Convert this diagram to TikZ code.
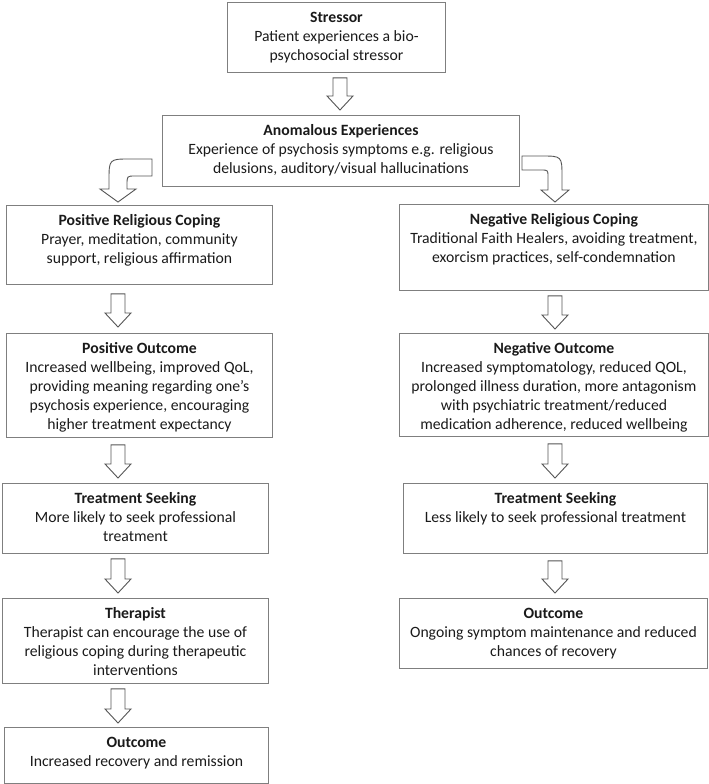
\documentclass[tikz,border=0pt]{standalone}
\usepackage{fontspec}
\setmainfont{Carlito}
\usetikzlibrary{calc}
\definecolor{boxline}{HTML}{7F7F7F}
\definecolor{arrline}{HTML}{555555}
\definecolor{ink}{HTML}{1A1A1A}
\tikzset{
  box/.style={draw=boxline, line width=0.9pt, rectangle, inner sep=0pt, anchor=north west},
  txt/.style={anchor=north, align=center, inner sep=0pt, text=ink, font=\fontsize{15.7}{19}\selectfont},
  barrow/.style={draw=arrline, fill=white, line width=0.9pt, line join=miter}
}
\newcommand{\flowbox}[6]{%
  \node[box, minimum width={(#4)-(#2)}, minimum height={(#5)-(#3)}] (#1) at (#2,#3) {};
  \node[txt] (#1-text) at ([yshift=-7.2pt]#1.north) {\strut#6};
}
% axis, from node, to node, gap below source, gap above target
\newcommand{\downblock}[5]{%
  \draw[barrow] let \p1=(#1 |- #2.south), \p2=(#1 |- #3.north) in
    ({\x1-7pt},{\y1-#4pt}) -- ({\x1+7pt},{\y1-#4pt}) -- ({\x1+7pt},{\y2+#5pt+14pt})
    -- ({\x1+13pt},{\y2+#5pt+14pt}) -- ({\x1},{\y2+#5pt}) -- ({\x1-13pt},{\y2+#5pt+14pt})
    -- ({\x1-7pt},{\y2+#5pt+14pt}) -- cycle;
}
\begin{document}
\begin{tikzpicture}[x=1pt,y=-1pt]
\useasboundingbox (0,0) rectangle (709,784);
\coordinate (Ccol) at (340,0);
\coordinate (Lcol) at (118,0);
\coordinate (Rcol) at (555,0);

\flowbox{stressor}{227}{2}{445}{72}{\textbf{Stressor}\\Patient experiences a bio-\\psychosocial stressor}
\flowbox{anomalous}{162}{115}{519}{186}{\textbf{Anomalous Experiences}\\Experience of psychosis symptoms e.g. religious\\delusions, auditory/visual hallucinations}
\flowbox{poscope}{6}{205}{272}{284}{\textbf{Positive Religious Coping}\\Prayer, meditation, community\\support, religious affirmation}
\flowbox{negcope}{399}{204}{708}{290}{\textbf{Negative Religious Coping}\\Traditional Faith Healers, avoiding treatment,\\exorcism practices, self-condemnation}
\flowbox{posout}{6}{333}{272}{437}{\textbf{Positive Outcome}\\Increased wellbeing, improved QoL,\\providing meaning regarding one’s\\psychosis experience, encouraging\\higher treatment expectancy}
\flowbox{negout}{399}{333}{708}{436}{\textbf{Negative Outcome}\\Increased symptomatology, reduced QOL,\\prolonged illness duration, more antagonism\\with psychiatric treatment/reduced\\medication adherence, reduced wellbeing}
\flowbox{posseek}{2}{483}{268}{553}{\textbf{Treatment Seeking}\\More likely to seek professional\\treatment}
\flowbox{negseek}{403}{483}{707}{553}{\textbf{Treatment Seeking}\\Less likely to seek professional treatment}
\flowbox{therapist}{2}{598}{268}{683}{\textbf{Therapist}\\Therapist can encourage the use of\\religious coping during therapeutic\\interventions}
\flowbox{posend}{4}{727}{268}{783}{\textbf{Outcome}\\Increased recovery and remission}
\flowbox{negend}{399}{598}{707}{668}{\textbf{Outcome}\\Ongoing symptom maintenance and reduced\\chances of recovery}

\downblock{Ccol}{stressor}{anomalous}{5}{5}
\downblock{Lcol}{poscope}{posout}{9}{6}
\downblock{Lcol}{posout}{posseek}{7}{5}
\downblock{Lcol}{posseek}{therapist}{5}{5}
\downblock{Lcol}{therapist}{posend}{5}{4}
\downblock{Rcol}{negcope}{negout}{5}{4}
\downblock{Rcol}{negout}{negseek}{7}{5}
\downblock{Rcol}{negseek}{negend}{7}{5}

% curved block arrows from Anomalous Experiences
\draw[barrow] (152,159) -- (130,159) .. controls (109,159) .. (109,181) -- (109,189)
  -- (100,189) -- (118,202) -- (136,189) -- (127,189) -- (127,185)
  .. controls (127,176) .. (135,176) -- (152,176) -- cycle;
\draw[barrow] (522,156) -- (541,156) .. controls (562,156) .. (562,177) -- (562,190)
  -- (569,190) -- (555,202) -- (541,190) -- (548,190) -- (548,177)
  .. controls (548,170) .. (541,170) -- (522,170) -- cycle;
\end{tikzpicture}
\end{document}
